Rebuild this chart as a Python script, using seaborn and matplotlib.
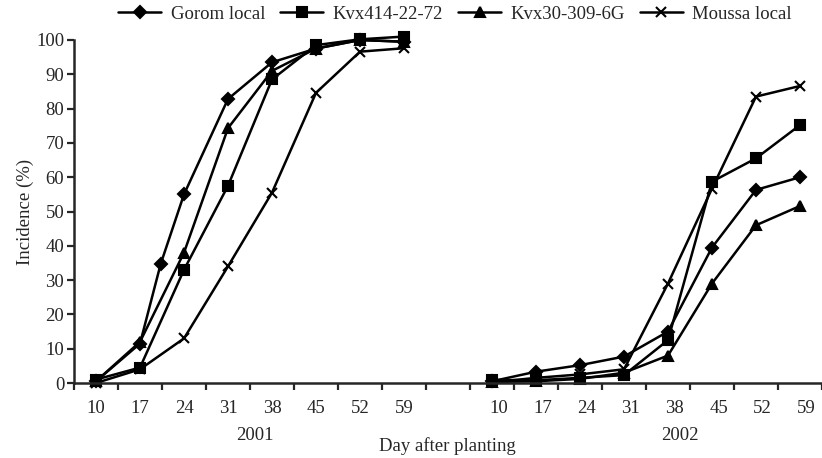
import numpy as np
import pandas as pd
import matplotlib.pyplot as plt
import seaborn as sns

days = [10, 17, 24, 31, 38, 45, 52, 59]
years = ['2001', '2002']
varieties = ['Gorom local', 'Kvx414-22-72', 'Kvx30-309-6G', 'Moussa local']

# category slots on the shared axis: 2001 -> 0..7, one empty slot, 2002 -> 9..16
pos_2001 = [0, 1, 2, 3, 4, 5, 6, 7]
pos_2002 = [9, 10, 11, 12, 13, 14, 15, 16]

# Gorom local 2001 has one extra reading between day 17 and day 24
gorom_pos_2001 = [0, 1, 1.47, 2, 3, 4, 5, 6, 7]
gorom_2001 = [0.5, 11.5, 34.7, 55, 82.8, 93.5, 97.5, 100, 99.5]
kvx414_2001 = [1, 4.5, 33, 57.5, 88.5, 98.5, 100.2, 101]
kvx30_2001 = [0.5, 12, 38, 74.3, 91, 97.5, 100, 99.5]
moussa_2001 = [0, 4, 13, 34, 55.5, 84.6, 96.6, 97.6]

gorom_2002 = [0.5, 3.3, 5.2, 7.7, 15, 39.5, 56.3, 60]
kvx414_2002 = [0.9, 0.8, 1.5, 2.3, 12.5, 58.7, 65.5, 75.2]
kvx30_2002 = [0.3, 0.5, 1.2, 3.0, 8, 29, 46, 51.6]
moussa_2002 = [0.2, 1.5, 2.5, 4, 29, 56.7, 83.5, 86.6]

rows = []
series = [
    ('Gorom local', '2001', gorom_pos_2001, gorom_2001),
    ('Kvx414-22-72', '2001', pos_2001, kvx414_2001),
    ('Kvx30-309-6G', '2001', pos_2001, kvx30_2001),
    ('Moussa local', '2001', pos_2001, moussa_2001),
    ('Gorom local', '2002', pos_2002, gorom_2002),
    ('Kvx414-22-72', '2002', pos_2002, kvx414_2002),
    ('Kvx30-309-6G', '2002', pos_2002, kvx30_2002),
    ('Moussa local', '2002', pos_2002, moussa_2002),
]
for name, yr, xs, ys in series:
    for x, y in zip(xs, ys):
        rows.append({'variety': name, 'year': yr, 'pos': x, 'incidence': y})
df = pd.DataFrame(rows)

sns.set_style('ticks')
plt.rcParams['font.family'] = ['Liberation Serif', 'DejaVu Serif']
plt.rcParams['font.size'] = 13.5

markers = {'Gorom local': 'D', 'Kvx414-22-72': 's', 'Kvx30-309-6G': '^', 'Moussa local': 'x'}
msizes = {'Gorom local': 5.8, 'Kvx414-22-72': 6.8, 'Kvx30-309-6G': 7.8, 'Moussa local': 6.5}

fig = plt.figure(figsize=(8.22, 4.58), dpi=100)
ax = fig.add_axes([74 / 822, 1 - 383 / 458, 748 / 822, 343 / 458])

for name in varieties:
    for yr in years:
        sub = df[(df['variety'] == name) & (df['year'] == yr)]
        sns.lineplot(data=sub, x='pos', y='incidence', ax=ax, color='black',
                     marker=markers[name], markersize=msizes[name],
                     markeredgewidth=1.5, markeredgecolor='black',
                     linewidth=1.8, clip_on=False,
                     label=name if yr == '2001' else None, legend=False)

ax.set_xlim(-0.5, 16.37)
ax.set_ylim(0, 100)
ax.set_yticks(np.arange(0, 101, 10))

# labels under the categories, tick marks between them
label_pos = pos_2001 + [p + 0.15 for p in pos_2002]
ax.set_xticks(label_pos)
ax.set_xticklabels([str(d) for d in days] * 2)
ax.set_xticks(np.arange(-0.5, 16.6, 1), minor=True)
ax.tick_params(axis='x', which='major', length=0, pad=12)
ax.tick_params(axis='x', which='minor', length=5, width=1.6, direction='out')
ax.tick_params(axis='y', length=5, width=1.6, direction='out', pad=2)

sns.despine(ax=ax)
ax.spines['left'].set_linewidth(1.8)
ax.spines['bottom'].set_linewidth(1.8)

ax.set_xlabel('')
ax.set_ylabel('Incidence (%)')
ax.yaxis.set_label_coords(-0.054, 0.5)

trans = ax.get_xaxis_transform()
ax.text(3.6, -0.152, '2001', transform=trans, ha='center', va='center')
ax.text(13.27, -0.152, '2002', transform=trans, ha='center', va='center')
fig.text(447 / 822, 1 - 446 / 458, 'Day after planting', ha='center', va='center')

handles, labels = ax.get_legend_handles_labels()
fig.legend(handles, labels, loc='center', bbox_to_anchor=(455 / 822, 1 - 14 / 458),
           ncol=4, frameon=False, handlelength=2.3, handletextpad=0.5,
           columnspacing=0.8, borderaxespad=0)

fig.savefig('out.png', dpi=100)
